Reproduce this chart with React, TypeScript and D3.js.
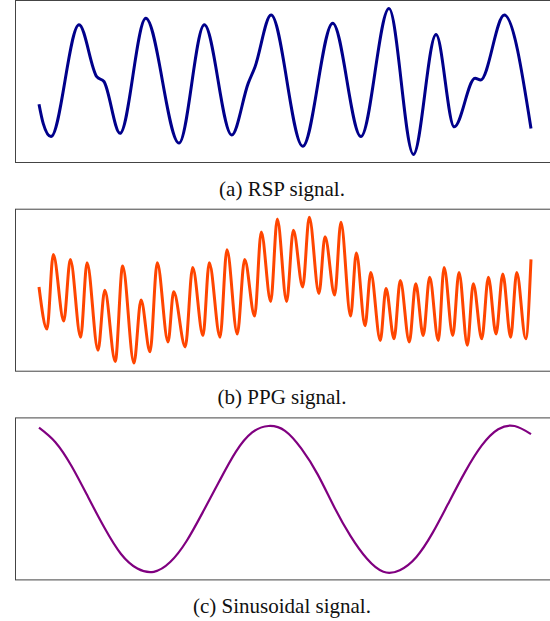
import React, { useEffect, useRef } from 'react';
import * as d3 from 'd3';

// (a) respiration: turning points (time in s, normalized amplitude)
const rspTime = [0, 0.26, 0.73, 2.44, 3.52, 3.96, 4.94, 6.51, 8.54, 10.08, 11.75, 12.76, 13.17, 14.15,
  16.08, 17.91, 19.63, 21.34, 22.83, 24.21, 25.32, 26.59, 26.93, 28.37, 30];
const rspValue = [0.36, 0.24, 0.16, 0.85, 0.53, 0.5, 0.18, 0.89, 0.12, 0.85, 0.17, 0.49, 0.59, 0.91,
  0.1, 0.86, 0.16, 0.95, 0.05, 0.79, 0.22, 0.52, 0.51, 0.91, 0.21];

// (b) PPG: peaks and troughs
const ppgTime = [0, 0.49, 0.87, 1.51, 1.91, 2.54, 2.93, 3.6, 4.01, 4.65, 5.1, 5.79, 6.22, 6.77, 7.21,
  7.87, 8.21, 8.92, 9.37, 10.0, 10.38, 11.04, 11.46, 12.09, 12.54, 13.15, 13.55, 14.13, 14.53, 15.1,
  15.51, 16.08, 16.48, 17.07, 17.44, 18.03, 18.41, 19.0, 19.35, 19.88, 20.23, 20.81, 21.16, 21.65,
  22.03, 22.58, 22.97, 23.43, 23.82, 24.35, 24.7, 25.23, 25.61, 26.12, 26.48, 27.0, 27.4, 27.87,
  28.28, 28.76, 29.13, 29.68, 30];
const ppgValue = [0.52, 0.26, 0.72, 0.31, 0.69, 0.21, 0.67, 0.13, 0.5, 0.06, 0.65, 0.05, 0.44, 0.12, 0.67,
  0.18, 0.49, 0.15, 0.64, 0.22, 0.67, 0.21, 0.75, 0.23, 0.69, 0.34, 0.86, 0.43, 0.94, 0.43,
  0.87, 0.52, 0.95, 0.48, 0.83, 0.47, 0.92, 0.34, 0.73, 0.28, 0.61, 0.19, 0.51, 0.2,
  0.56, 0.18, 0.54, 0.22, 0.58, 0.19, 0.64, 0.22, 0.61, 0.16, 0.54, 0.2, 0.58, 0.23,
  0.6, 0.21, 0.61, 0.2, 0.69];

// (c) sinusoid sampled once per second
const sinTime = d3.range(0, 31);
const sinValue = [0.94, 0.85, 0.7, 0.51, 0.32, 0.16, 0.07, 0.05, 0.11, 0.24, 0.42, 0.61, 0.79, 0.91, 0.95,
  0.92, 0.81, 0.65, 0.45, 0.27, 0.13, 0.05, 0.06, 0.14, 0.29, 0.48, 0.67, 0.83, 0.93, 0.95, 0.9];

const captions = ['(a) RSP signal.', '(b) PPG signal.', '(c) Sinusoidal signal.'];

function App() {
  const ref = useRef();

  useEffect(() => {
    const svg = d3.select(ref.current);
    svg.selectAll('*').remove();

    const width = 550, height = 621;
    const boxLeft = 15.5, boxH = 162, step = 208.7;
    svg.attr('width', width).attr('height', height);

    const x = d3.scaleLinear().domain([0, 30]).range([39, 531]);

    const panels = [
      { t: rspTime, v: rspValue, color: '#00008b', w: 3, curve: d3.curveMonotoneX },
      { t: ppgTime, v: ppgValue, color: '#ff4500', w: 3, curve: d3.curveMonotoneX },
      { t: sinTime, v: sinValue, color: '#800080', w: 2.2, curve: d3.curveNatural },
    ];

    panels.forEach((p, i) => {
      const top = 0.5 + i * step;
      const y = d3.scaleLinear().domain([0, 1]).range([top + boxH, top]);
      const g = svg.append('g');

      g.append('rect')
        .attr('x', boxLeft)
        .attr('y', top)
        .attr('width', width + 10 - boxLeft)
        .attr('height', boxH)
        .attr('fill', 'none')
        .attr('stroke', '#444')
        .attr('stroke-width', 1);

      const line = d3.line()
        .x((_, k) => x(p.t[k]))
        .y((d) => y(d))
        .curve(p.curve);

      g.append('path')
        .datum(p.v)
        .attr('d', line)
        .attr('fill', 'none')
        .attr('stroke', p.color)
        .attr('stroke-width', p.w)
        .attr('stroke-linejoin', 'round')
        .attr('stroke-linecap', 'butt');

      g.append('text')
        .attr('x', 282)
        .attr('y', top + boxH + 33)
        .attr('text-anchor', 'middle')
        .attr('font-family', '"Liberation Serif", "Times New Roman", serif')
        .attr('font-size', 21)
        .attr('fill', '#111')
        .text(captions[i]);
    });
  }, []);

  return <svg ref={ref} style={{ position: 'absolute', left: 0, top: 0 }}></svg>;
}

export default App;
